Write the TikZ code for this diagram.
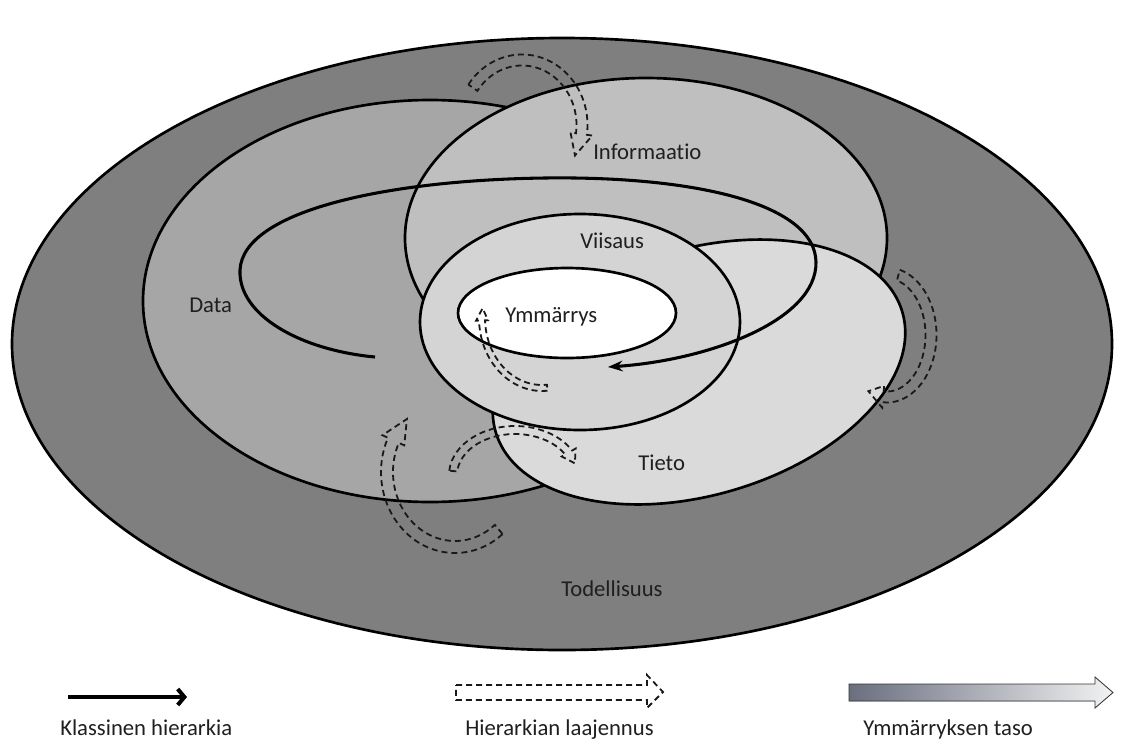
\documentclass[tikz,border=0pt]{standalone}
\usepackage{fontspec}
\setmainfont{Carlito}[Ligatures=NoCommon]
\usetikzlibrary{arrows.meta,calc}
\definecolor{cOuter}{HTML}{7F7F7F}
\definecolor{cData}{HTML}{A6A6A6}
\definecolor{cInfo}{HTML}{BFBFBF}
\definecolor{cTieto}{HTML}{DADADA}
\definecolor{cViisaus}{HTML}{D4D4D4}
\definecolor{cGradL}{HTML}{6A6F7F}
\definecolor{cGradR}{HTML}{F2F2F2}
\newcommand\hollowarrow[9]{%
  % #1,#2 centre; #3,#4 radii; #5 start angle; #6 end angle; #7 half width; #8 head half width; #9 head angle
  \begin{scope}[shift={(#1,#2)}]
    \pgfmathsetmacro\hoAx{(#3+#7)*cos(#5)}\pgfmathsetmacro\hoAy{(#4+#7)*sin(#5)}%
    \pgfmathsetmacro\hoRxo{#3+#7}\pgfmathsetmacro\hoRyo{#4+#7}%
    \pgfmathsetmacro\hoRxi{#3-#7}\pgfmathsetmacro\hoRyi{#4-#7}%
    \pgfmathsetmacro\hoBx{(#3+#8)*cos(#6)}\pgfmathsetmacro\hoBy{(#4+#8)*sin(#6)}%
    \pgfmathsetmacro\hoCx{#3*cos(#6+#9)}\pgfmathsetmacro\hoCy{#4*sin(#6+#9)}%
    \pgfmathsetmacro\hoDx{(#3-#8)*cos(#6)}\pgfmathsetmacro\hoDy{(#4-#8)*sin(#6)}%
    \pgfmathsetmacro\hoEx{(#3-#7)*cos(#6)}\pgfmathsetmacro\hoEy{(#4-#7)*sin(#6)}%
    \draw[dsh] (\hoAx,\hoAy) arc[start angle=#5,end angle=#6,x radius=\hoRxo,y radius=\hoRyo]
      -- (\hoBx,\hoBy) -- (\hoCx,\hoCy) -- (\hoDx,\hoDy) -- (\hoEx,\hoEy)
      arc[start angle=#6,end angle=#5,x radius=\hoRxi,y radius=\hoRyi] -- cycle;
  \end{scope}}
\begin{document}
\begin{tikzpicture}[x=0.75pt,y=-0.75pt,
  region/.style={draw=black,line width=2pt},
  lbl/.style={font=\fontsize{17}{20}\selectfont,text=black!88,inner sep=0pt,anchor=base west},
  dsh/.style={draw=black!90,line width=1.35pt,dash pattern=on 4.5pt off 3pt},
  spiral/.style={draw=black,line width=2.3pt,-{Stealth[length=11pt,width=8pt]}},
  ]
\useasboundingbox (0,0) rectangle (1125,740);
\fill[white] (0,0) rectangle (1125,740);
% regions
\filldraw[region,fill=cOuter] (562,344) ellipse [x radius=550,y radius=306];
\filldraw[region,fill=cData] (430,301) ellipse [x radius=287,y radius=201];
\filldraw[region,fill=cInfo] (646,238) ellipse [x radius=241,y radius=160];
\filldraw[region,fill=cTieto,rotate around={16.5:(699,372)}] (699,372) ellipse [x radius=212,y radius=123];
\filldraw[region,fill=cViisaus] (580,322) ellipse [x radius=160,y radius=108];
\filldraw[region,fill=white] (567,313) ellipse [x radius=109,y radius=45];
% classical hierarchy spiral
\coordinate (spiralstart) at (375,357);
\coordinate (spiralend) at (608,367);
\draw[spiral] (spiralstart) .. controls (300,350) and (238,315) .. (240,270)
  .. controls (243,210) and (390,180) .. (545,178)
  .. controls (700,176) and (815,205) .. (816,262)
  .. controls (817,320) and (710,360) .. (spiralend);
% extension arrows (hollow, dashed)
\hollowarrow{522}{125}{60}{65}{215}{368}{5.5}{11}{20}
\hollowarrow{887}{335}{44}{62}{-75}{95}{5.5}{11}{20}
\hollowarrow{455}{472}{68}{75}{50}{205}{6}{12}{20}
\hollowarrow{515}{475}{62}{45}{185}{330}{4}{8}{15}
\hollowarrow{542}{318}{60}{70}{85}{178}{3}{6}{10}
% labels
\node[lbl] (todellisuus) at (561,596) {Todellisuus};
\node[lbl] (data) at (189,312) {Data};
\node[lbl] (informaatio) at (593,159) {Informaatio};
\node[lbl] (viisaus) at (580,248) {Viisaus};
\node[lbl] (ymmarrys) at (505,322) {Ymmärrys};
\node[lbl] (tieto) at (638,470) {Tieto};
% legend
\coordinate (lgA) at (68,697);
\coordinate (lgB) at (187,697);
\draw[line width=3pt,-{Straight Barb[length=5pt,width=12pt]}] (lgA) -- (lgB);
\draw[dsh] (456,685) -- (647,685) -- (647,675) -- (663,692) -- (647,708) -- (647,700) -- (456,700) -- cycle;
\filldraw[draw=black!80,line width=0.6pt,left color=cGradL,right color=cGradR]
  (849,684) -- (1095,684) -- (1095,677) -- (1113,692.5) -- (1095,708) -- (1095,701) -- (849,701) -- cycle;
\node[lbl] (lgklass) at (60,735) {Klassinen hierarkia};
\node[lbl] (lglaaj) at (465,735) {Hierarkian laajennus};
\node[lbl] (lgtaso) at (863,735) {Ymmärryksen taso};
\end{tikzpicture}
\end{document}
